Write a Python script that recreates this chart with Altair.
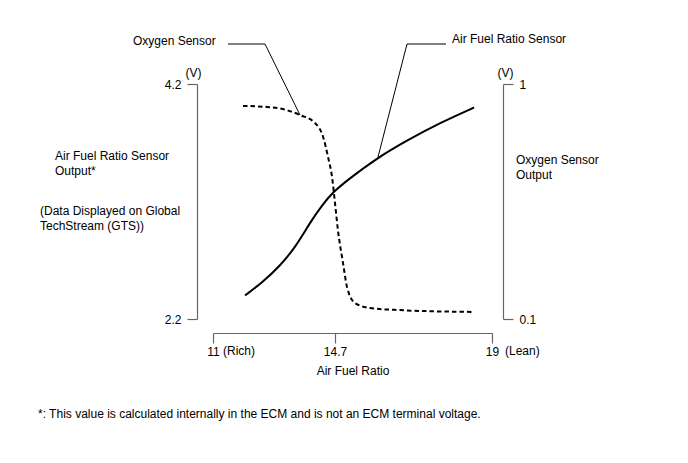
import altair as alt
import pandas as pd

FONT = "Liberation Sans"

# Air fuel ratio sensor output (left axis, V) vs air fuel ratio
afr_x = [11.97, 12.49, 13.03, 13.52, 13.94, 14.31, 14.64, 15.03, 15.85, 16.67, 17.58, 18.51]
afr_v = [2.40, 2.51, 2.65, 2.82, 3.02, 3.17, 3.28, 3.38, 3.57, 3.72, 3.87, 4.00]

# Oxygen sensor output (right axis, V) vs air fuel ratio
o2_x = [11.91, 12.64, 13.24, 13.64, 14.09, 14.34, 14.49, 14.61, 14.70, 14.78,
        14.92, 15.03, 15.25, 15.66, 16.48, 18.51]
o2_v = [0.916, 0.912, 0.900, 0.881, 0.851, 0.797, 0.720, 0.644, 0.544, 0.441,
        0.314, 0.222, 0.161, 0.142, 0.134, 0.127]

x_ticks = [11, 14.7, 19]
left_ticks = [2.2, 4.2]
right_ticks = [0.1, 1]

afr_df = pd.DataFrame({"afr": afr_x, "v": afr_v})
o2_df = pd.DataFrame({"afr": o2_x, "v": o2_v})
one = pd.DataFrame({"k": [0]})

x_scale = alt.Scale(domain=[11, 14.7, 19], range=[16, 138, 295])
x_axis = alt.Axis(values=x_ticks, labelExpr="'' + datum.value", offset=14,
                  tickSize=10, labelPadding=3, title="Air Fuel Ratio",
                  titlePadding=8, labelFlush=False, grid=False)

solid = alt.Chart(afr_df).mark_line(
    color="black", strokeWidth=2, interpolate="basis"
).encode(
    x=alt.X("afr:Q", scale=x_scale, axis=x_axis),
    y=alt.Y("v:Q", scale=alt.Scale(domain=[2.2, 4.2], nice=False, zero=False),
            axis=alt.Axis(values=left_ticks, format=".1f", tickSize=10,
                          labelPadding=6, title="(V)", titleAngle=0,
                          titleX=-4, titleY=-12, titleAlign="center",
                          titleBaseline="middle", grid=False, labelFlush=False)),
)

dashed = alt.Chart(o2_df).mark_line(
    color="black", strokeWidth=2, strokeDash=[4.5, 3], interpolate="monotone"
).encode(
    x=alt.X("afr:Q", scale=x_scale, axis=x_axis),
    y=alt.Y("v:Q", scale=alt.Scale(domain=[0.1, 1], nice=False, zero=False),
            axis=alt.Axis(orient="right", values=right_ticks, format="~g",
                          tickSize=10, labelPadding=6, title="(V)",
                          titleAngle=0, titleX=2, titleY=-12,
                          titleAlign="center", titleBaseline="middle",
                          grid=False, labelFlush=False)),
)


def label(text, x, y, size=12, align="left"):
    return alt.Chart(one).mark_text(
        align=align, baseline="middle", font=FONT, fontSize=size, color="black"
    ).encode(x=alt.value(x), y=alt.value(y), text=alt.value(text))


def seg(x1, y1, x2, y2):
    return alt.Chart(one).mark_rule(color="black", strokeWidth=1).encode(
        x=alt.value(x1), y=alt.value(y1), x2=alt.value(x2), y2=alt.value(y2)
    )


annos = [
    label("Oxygen Sensor", -64, -43),
    label("Air Fuel Ratio Sensor", 255, -45),
    label("Air Fuel Ratio Sensor", -142, 72),
    label("Output*", -142, 87),
    label("(Data Displayed on Global", -157, 127),
    label("TechStream (GTS))", -157, 142),
    label("Oxygen Sensor", 319, 76),
    label("Output", 319, 91),
    label("(Rich)", 26, 267),
    label("(Lean)", 308, 267),
    label("*: This value is calculated internally in the ECM and is not an ECM terminal voltage.",
          -159, 330, size=12),
    seg(31, -40, 68, -40),
    seg(68, -40, 103, 31),
    seg(210, -40, 249, -40),
    seg(210, -40, 181, 73),
]

chart = alt.layer(solid, dashed, *annos).resolve_scale(
    y="independent"
).properties(
    width=306,
    height=235,
    autosize=alt.AutoSizeParams(type="none"),
    padding={"left": 189, "top": 76, "right": 177, "bottom": 136},
    background="white",
).configure_view(stroke=None).configure_axis(
    labelFont=FONT, titleFont=FONT, labelFontSize=12, titleFontSize=12,
    titleFontWeight="normal", labelColor="black", titleColor="black",
    domainColor="#666666", tickColor="#666666", domainWidth=1.2, tickWidth=1.2,
)

chart.save("out.html", embed_options={"renderer": "svg", "actions": False})
